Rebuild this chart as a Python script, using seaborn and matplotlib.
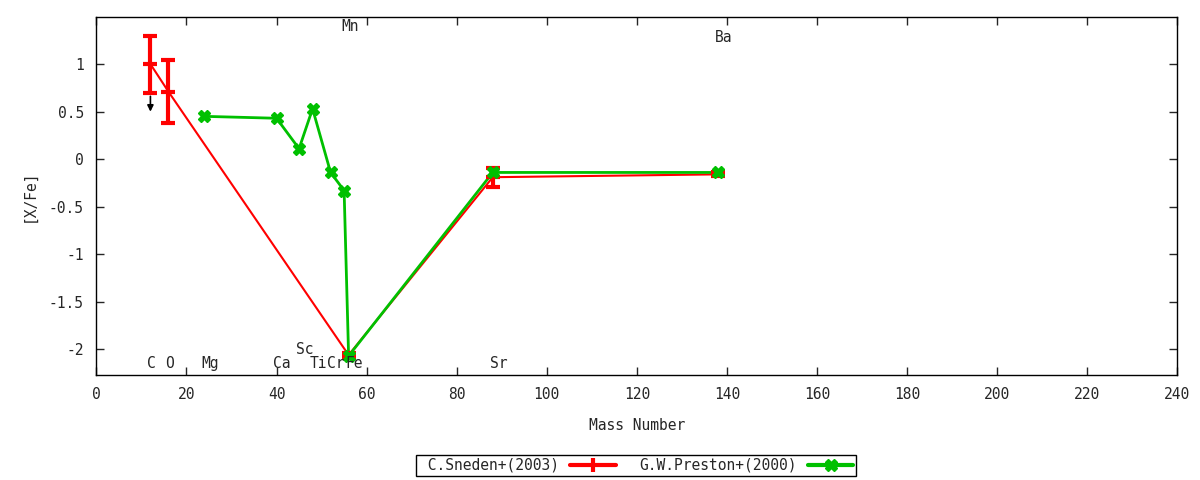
import numpy as np
import pandas as pd
import seaborn as sns
import matplotlib.pyplot as plt
from matplotlib.ticker import MultipleLocator
from matplotlib.lines import Line2D

# Sneden+(2003)
sneden_mass = [12, 16, 56, 88, 138]
sneden_xfe = [1.0, 0.71, -2.06, -0.19, -0.16]
sneden_err = [0.30, 0.33, 0.02, 0.10, 0.02]

# Preston+(2000)
preston_mass = [24, 40, 45, 48, 52, 55, 56, 88, 138]
preston_xfe = [0.45, 0.43, 0.11, 0.53, -0.14, -0.33, -2.07, -0.14, -0.14]
preston_err = [0.02, 0.02, 0.02, 0.02, 0.02, 0.02, 0.02, 0.02, 0.02]

# element labels: (name, x, y)
elem_names = ["C", "O", "Mg", "Ca", "Sc", "Ti", "Cr", "Fe", "Sr", "Mn", "Ba"]
elem_x = [12, 16, 24, 40, 45, 48, 52, 56, 88, 55, 138]
elem_y = [-2.15, -2.15, -2.15, -2.15, -2.0, -2.15, -2.15, -2.15, -2.15, 1.39, 1.28]

RED = "#ff0000"
GREEN = "#00c000"

sns.set_style("ticks")
plt.rcParams["font.family"] = ["DejaVu Sans Mono", "DejaVu Sans"]
plt.rcParams["font.size"] = 9.5

df_s = pd.DataFrame({"mass": sneden_mass, "xfe": sneden_xfe})
df_p = pd.DataFrame({"mass": preston_mass, "xfe": preston_xfe})

fig = plt.figure(figsize=(12, 4.8), dpi=100)
ax = fig.add_axes([0.0803, 0.2188, 0.9009, 0.7458])

sns.lineplot(data=df_s, x="mass", y="xfe", color=RED, lw=1.5, ax=ax, legend=False)
sns.lineplot(data=df_p, x="mass", y="xfe", color=GREEN, lw=2, ax=ax, legend=False)

ax.errorbar(sneden_mass, sneden_xfe, yerr=sneden_err, fmt="none", ecolor=RED,
            elinewidth=3, capsize=5, capthick=3)
ax.plot(sneden_mass, sneden_xfe, ls="none", marker="_", ms=10, mew=3, color=RED)
ax.errorbar(preston_mass, preston_xfe, yerr=preston_err, fmt="none", ecolor=GREEN,
            elinewidth=3, capsize=3, capthick=2)
ax.plot(preston_mass, preston_xfe, ls="none", marker="X", ms=8, color=GREEN)

# upper limit arrow for C
ax.annotate("", xy=(12, 0.47), xytext=(12, 0.69),
            arrowprops=dict(arrowstyle="-|>", color="black", lw=1.2, mutation_scale=9))

for name, x, y in zip(elem_names, elem_x, elem_y):
    ax.text(x - 0.7, y, name, ha="left", va="center", fontsize=10.5)

ax.set_xlim(0, 240)
ax.set_ylim(-2.27, 1.495)
ax.xaxis.set_major_locator(MultipleLocator(20))
ax.set_yticks([-2, -1.5, -1, -0.5, 0, 0.5, 1])
ax.set_yticklabels(["-2", "-1.5", "-1", "-0.5", "0", "0.5", "1"])
ax.tick_params(direction="in", top=True, right=True, length=6, width=1, pad=9,
               labelsize=10.5)
for s in ax.spines.values():
    s.set_linewidth(1)
    s.set_color("black")
ax.set_xlabel("Mass Number", labelpad=11, fontsize=10.5)
ax.set_ylabel("[X/Fe]", labelpad=9, fontsize=10.5)

hs = Line2D([], [], color=RED, lw=3, marker="|", ms=10, mew=3)
hp = Line2D([], [], color=GREEN, lw=3, marker="X", ms=8)
leg = fig.legend([hs, hp], [" C.Sneden+(2003)", "G.W.Preston+(2000)"], loc="center",
                 bbox_to_anchor=(0.53, 0.031), ncol=2, markerfirst=False,
                 fancybox=False, framealpha=1, edgecolor="black", borderpad=0.2,
                 handlelength=3.1, columnspacing=1.6, fontsize=10.5)
leg.get_frame().set_linewidth(1)

fig.savefig("out.png", dpi=100)
